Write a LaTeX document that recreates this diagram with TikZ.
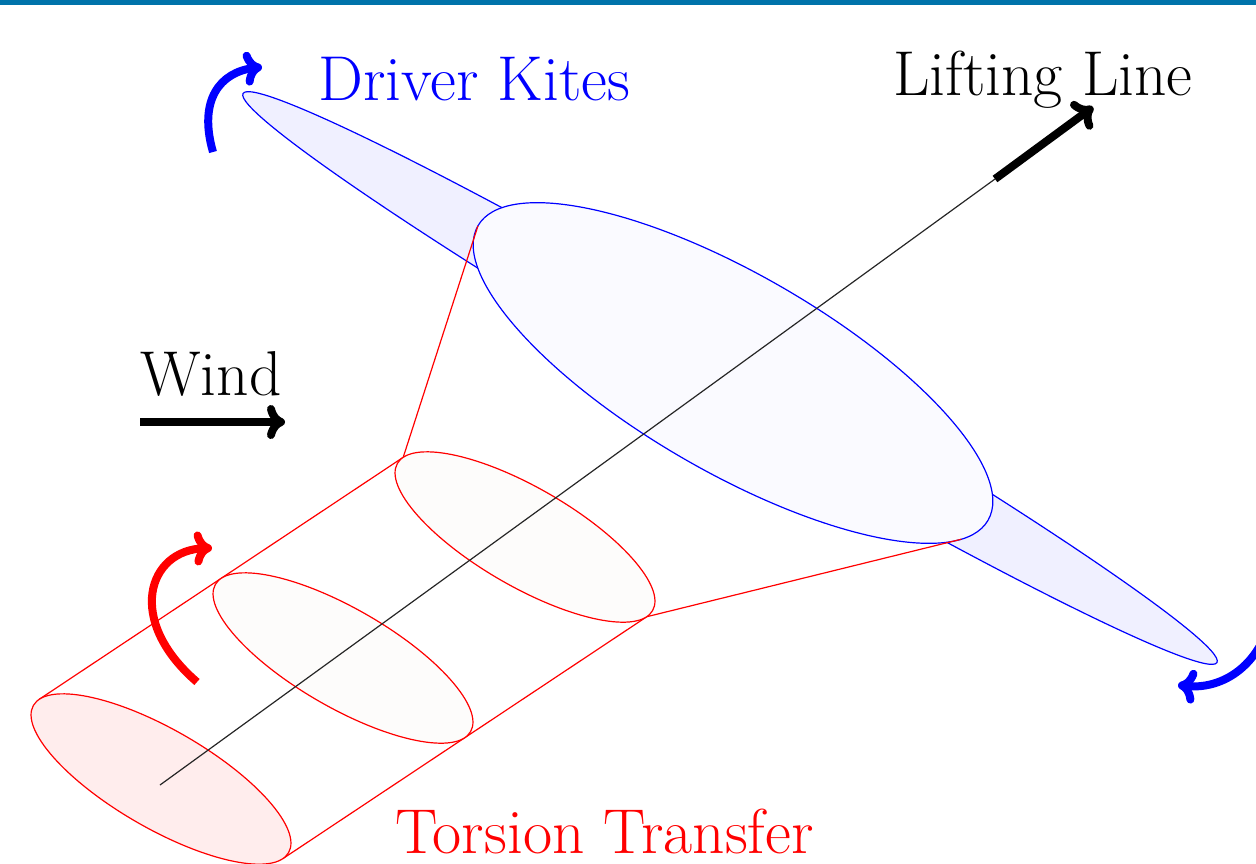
\documentclass[tikz,border=0pt]{standalone}
\usetikzlibrary{arrows.meta}
\definecolor{barblue}{RGB}{0,115,170}
\definecolor{ringfill}{RGB}{253,252,251}
\begin{document}
\begin{tikzpicture}[x=0.5pt,y=0.5pt,
  thinline/.style={line width=0.6pt},
  bigarrow/.style={line width=4pt,-{To[length=9pt,width=17pt]}},
  label/.style={font=\fontsize{31.7}{38}\selectfont, anchor=base west, inner sep=0pt}]
\useasboundingbox (0,-863) rectangle (1256,0);
\clip (0,-863) rectangle (1256,0);

% header bar
\fill[barblue] (0,0) rectangle (1256,-5);

% centres of the shapes
\coordinate (cw) at (730,-378);
\coordinate (cb) at (733,-373);
\coordinate (c1) at (161,-779);
\coordinate (c2) at (343,-658);
\coordinate (c3) at (525,-537);

% driver kite wing and rotor disc
\draw[thinline, blue, fill=blue!6, shift={(cw)}, rotate=-30.3] (0,0) ellipse (564 and 37);
\draw[thinline, blue, fill=blue!2, shift={(cb)}, rotate=-30] (0,0) ellipse (294.5 and 98.8);

% silhouette points of the torsion rings and the cone
\coordinate (t1a) at (39.2,-699.3);
\coordinate (t1b) at (282.8,-858.7);
\coordinate (t3a) at (403.2,-457.3);
\coordinate (t3b) at (646.8,-616.7);
\coordinate (ba) at (478,-225.7);
\coordinate (bb) at (961.4,-539.2);

\draw[thinline, red] (t1a) -- (t3a) -- (ba);
\draw[thinline, red] (t1b) -- (t3b) -- (bb);

% torsion rings
\draw[thinline, red, fill=ringfill, shift={(c3)}, rotate=-30] (0,0) ellipse (147.3 and 49.4);
\draw[thinline, red, fill=ringfill, shift={(c2)}, rotate=-30] (0,0) ellipse (147.3 and 49.4);
\draw[thinline, red, fill=red!7, shift={(c1)}, rotate=-30] (0,0) ellipse (147.3 and 49.4);

% lifting line
\coordinate (l0) at (160,-785);
\coordinate (l1) at (995,-179);
\coordinate (l2) at (1093,-107);
\draw[line width=0.6pt, black!85] (l0) -- (l1);
\draw[bigarrow, black] (l1) -- (l2);

% wind
\coordinate (w0) at (140,-422);
\coordinate (w1) at (285,-422);
\draw[bigarrow, black] (w0) -- (w1);

% rotation arrows
\coordinate (ra0) at (213,-152);
\coordinate (ra1) at (262,-67);
\draw[bigarrow, blue] (ra0) .. controls (198,-100) and (220,-72) .. (ra1);
\coordinate (rb0) at (197,-682);
\coordinate (rb1) at (212,-548);
\draw[bigarrow, red] (rb0) .. controls (125,-620) and (148,-550) .. (rb1);
\coordinate (rc0) at (1275,-600);
\coordinate (rc1) at (1178,-685);
\draw[bigarrow, blue] (rc0) .. controls (1265,-668) and (1220,-690) .. (rc1);

% labels
\node[label, text=blue] (tdk) at (318,-100) {Driver Kites};
\node[label] (tll) at (893,-95) {Lifting Line};
\node[label] (twd) at (140,-395) {Wind};
\node[label, text=red] (ttt) at (395,-853) {Torsion Transfer};
\end{tikzpicture}
\end{document}
